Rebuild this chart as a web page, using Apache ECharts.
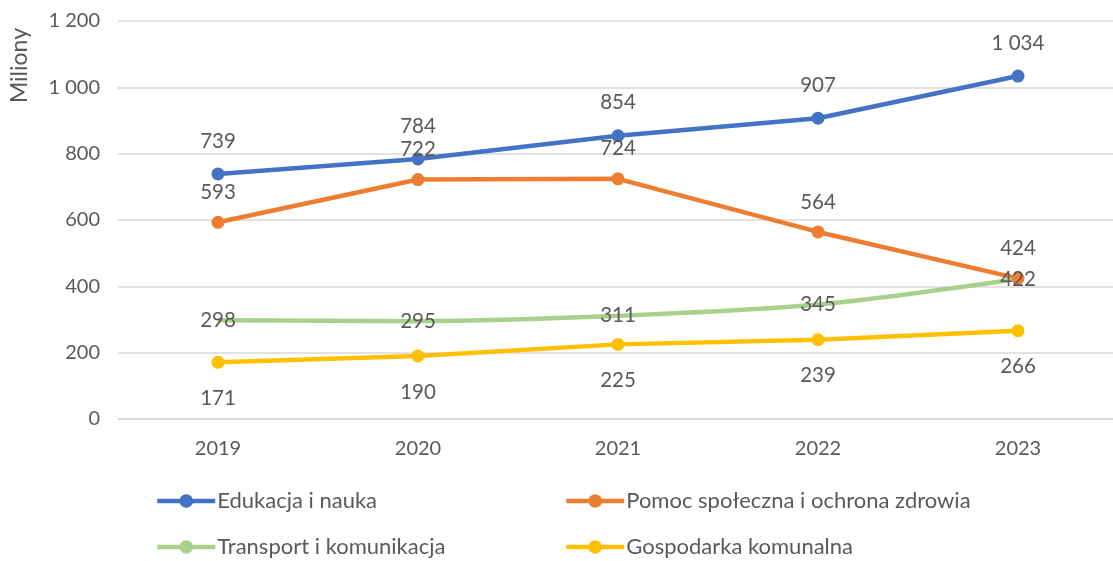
<!DOCTYPE html>
<html>
<head>
<meta charset="utf-8">
<script src="https://cdn.jsdelivr.net/npm/echarts@6/dist/echarts.min.js"></script>
<style>html,body{margin:0;padding:0;background:#fff}#c{width:1113px;height:561px}</style>
</head>
<body>
<div id="c"></div>
<script>
const categories = ['2019', '2020', '2021', '2022', '2023'];
const edukacja = [739, 784, 854, 907, 1034];
const pomoc = [593, 722, 724, 564, 424];
const transport = [298, 295, 311, 345, 422];
const gospodarka = [171, 190, 225, 239, 266];
const seriesNames = ['Edukacja i nauka', 'Pomoc społeczna i ochrona zdrowia', 'Transport i komunikacja', 'Gospodarka komunalna'];
const yTicks = [0, 200, 400, 600, 800, 1000, 1200];

const FONT = 'Lato';
const TXT = '#595959';
const fmt = v => String(v).replace(/\B(?=(\d{3})+(?!\d))/g, ' ');

const chart = echarts.init(document.getElementById('c'), null, {renderer: 'canvas'});
const lbl = (pos, dist) => ({
  show: true, position: pos, distance: dist, color: TXT, fontFamily: FONT, fontSize: 20.5,
  formatter: p => fmt(p.value)
});
const mk = (name, data, color, extra) => Object.assign({
  name, type: 'line', data, symbol: 'circle', symbolSize: 13,
  lineStyle: {width: 4.5, color}, itemStyle: {color}, z: 3
}, extra);
const leg = (name, left, top) => ({
  orient: 'horizontal', left, top, padding: 0, itemWidth: 58, itemHeight: 17,
  lineStyle: {width: 4.5},
  textStyle: {color: TXT, fontFamily: FONT, fontSize: 22, padding: [0, 0, 0, -3]},
  data: [name]
});

chart.setOption({
  animation: false,
  textStyle: {fontFamily: FONT},
  grid: {left: 118, top: 21, width: 1000, height: 398, containLabel: false, outerBoundsMode: 'none'},
  xAxis: {
    type: 'category', data: categories, boundaryGap: true,
    axisLine: {lineStyle: {color: '#D9D9D9', width: 1.5}},
    axisTick: {show: false},
    axisLabel: {color: TXT, fontFamily: FONT, fontSize: 20, margin: 20}
  },
  yAxis: {
    type: 'value', min: 0, max: 1200, interval: 200,
    name: 'Miliony', nameLocation: 'end', nameRotate: 90,
    nameGap: 0,
    nameTextStyle: {color: TXT, fontFamily: FONT, fontSize: 23, align: 'right', verticalAlign: 'bottom', padding: [0, 7, 87, 0]},
    axisLine: {show: false}, axisTick: {show: false},
    splitLine: {lineStyle: {color: '#D9D9D9', width: 1.5}},
    axisLabel: {color: TXT, fontFamily: FONT, fontSize: 20, margin: 18, formatter: v => fmt(v)}
  },
  legend: [
    leg(seriesNames[0], 155, 490),
    leg(seriesNames[1], 564, 490),
    leg(seriesNames[2], 155, 536),
    leg(seriesNames[3], 564, 536)
  ],
  series: [
    mk(seriesNames[0], edukacja, '#4472C4', {label: lbl('top', 16)}),
    mk(seriesNames[1], pomoc, '#ED7D31', {label: lbl('top', 13)}),
    mk(seriesNames[2], transport, '#A9D18E', {smooth: 0.3, symbolSize: 1, label: lbl('inside', 0)}),
    mk(seriesNames[3], gospodarka, '#FFC000', {label: lbl('bottom', 19)})
  ]
});
</script>
</body>
</html>
